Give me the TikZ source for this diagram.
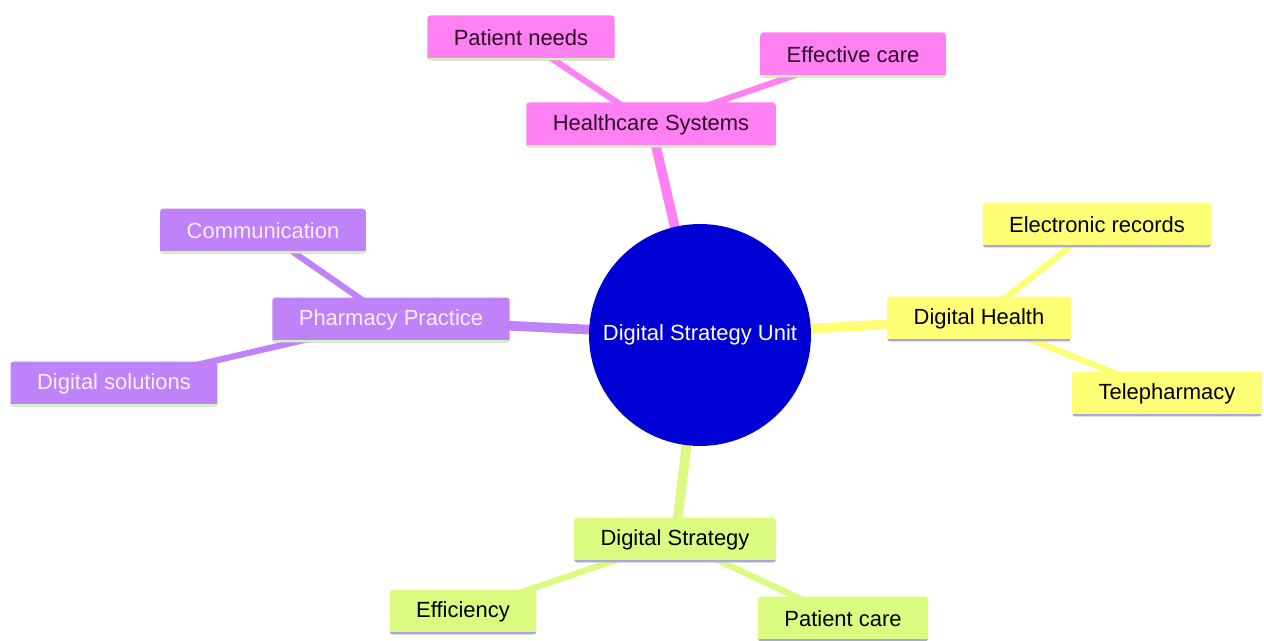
\documentclass[tikz,border=0pt]{standalone}
\usepackage{fontspec}
\setmainfont{Liberation Sans}
\usetikzlibrary{backgrounds}
\definecolor{hubblue}{RGB}{0,0,212}
\definecolor{pinkbox}{RGB}{255,128,242}
\definecolor{purplebox}{RGB}{192,130,248}
\definecolor{yellowbox}{RGB}{255,255,118}
\definecolor{greenbox}{RGB}{218,250,128}
\definecolor{lineagreen}{RGB}{205,245,185}
\definecolor{linelilac}{RGB}{170,165,230}
\definecolor{pinktext}{RGB}{45,10,40}
\definecolor{purpletext}{RGB}{248,238,255}
\begin{document}
\begin{tikzpicture}[x=0.02cm, y=-0.02cm,
    every node/.style={font=\fontsize{12.5}{15}\selectfont},
    topic/.style={rectangle, rounded corners=1.8pt, fill=#1, inner xsep=0.53cm,
        minimum height=0.9cm, inner ysep=0pt},
    uline/.style={path picture={\draw[line width=3pt, #1]
        (path picture bounding box.south west) -- (path picture bounding box.south east);}},
    pinknode/.style={topic=pinkbox, uline=lineagreen, text=pinktext},
    purplenode/.style={topic=purplebox, uline=lineagreen, text=purpletext},
    yellownode/.style={topic=yellowbox, uline=linelilac, text=black},
    greennode/.style={topic=greenbox, uline=linelilac, text=black},
    mainlink/.style={line width=5.5pt, #1},
    sublink/.style={line width=3.5pt, #1}]
    \useasboundingbox (0,0) rectangle (1264,641);

    % hub
    \node [circle, fill=hubblue, text=white, minimum size=4.44cm, inner sep=0pt] (hub) at (700,335) {Digital Strategy Unit};

    % healthcare systems
    \node [pinknode] (health) at (651,125) {Healthcare Systems};
    \node [pinknode] (needs) at (521,38) {Patient needs};
    \node [pinknode] (effective) at (853,55) {Effective care};

    % pharmacy practice
    \node [purplenode] (pharmacy) at (391,320) {Pharmacy Practice};
    \node [purplenode] (comm) at (263,231) {Communication};
    \node [purplenode] (solutions) at (114,384) {Digital solutions};

    % digital health
    \node [yellownode] (dhealth) at (979,319) {Digital Health};
    \node [yellownode] (records) at (1097,225) {Electronic records};
    \node [yellownode] (tele) at (1167,394) {Telepharmacy};

    % digital strategy
    \node [greennode] (dstrategy) at (675,540) {Digital Strategy};
    \node [greennode] (efficiency) at (463,612) {Efficiency};
    \node [greennode] (pcare) at (843,619) {Patient care};

    \begin{pgfonlayer}{background}
        \draw [mainlink=pinkbox] (hub.center) -- (health.center);
        \draw [mainlink=purplebox] (hub.center) -- (pharmacy.center);
        \draw [mainlink=yellowbox] (hub.center) -- (dhealth.center);
        \draw [mainlink=greenbox] (hub.center) -- (dstrategy.center);
        \draw [sublink=pinkbox] (health.center) -- (needs.center);
        \draw [sublink=pinkbox] (health.center) -- (effective.center);
        \draw [sublink=purplebox] (pharmacy.center) -- (comm.center);
        \draw [sublink=purplebox] (pharmacy.center) -- (solutions.center);
        \draw [sublink=yellowbox] (dhealth.center) -- (records.center);
        \draw [sublink=yellowbox] (dhealth.center) -- (tele.center);
        \draw [sublink=greenbox] (dstrategy.center) -- (efficiency.center);
        \draw [sublink=greenbox] (dstrategy.center) -- (pcare.center);
    \end{pgfonlayer}
\end{tikzpicture}
\end{document}
